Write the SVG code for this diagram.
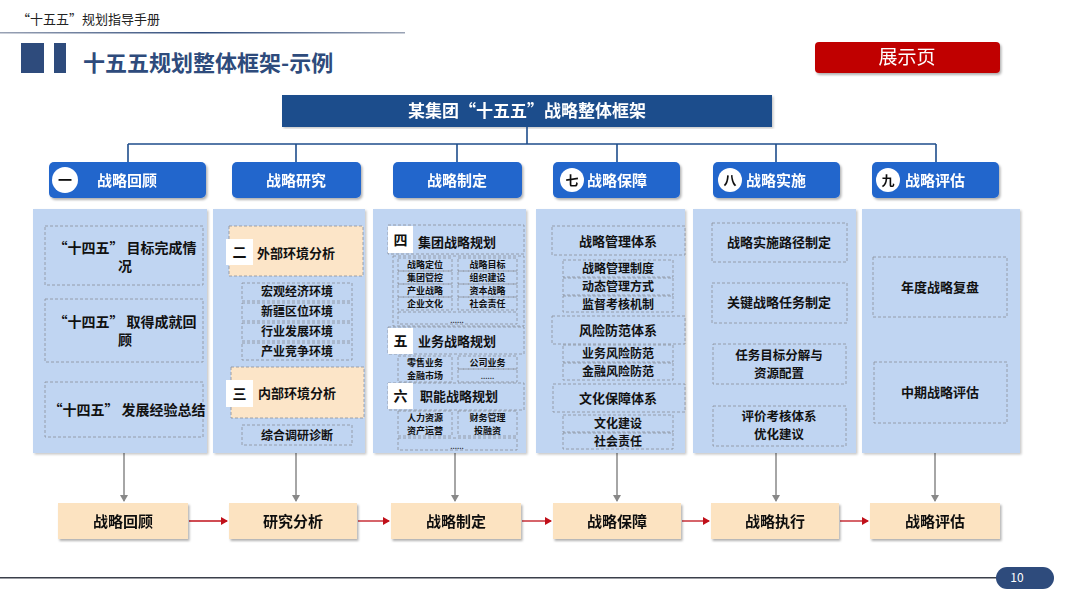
<svg xmlns="http://www.w3.org/2000/svg" width="1067" height="600" viewBox="0 0 1067 600">
<defs>
<style>
text{font-family:"Noto Sans CJK SC","Noto Sans",sans-serif;}
.b{font-weight:bold;}
.c{text-anchor:middle;}
.dash{fill:none;stroke:#8a8f99;stroke-width:0.8;stroke-dasharray:3 2;}
.panel{fill:#C0D5F2;}
.hdr{fill:#2266CC;}
.hdrt{font-size:15px;font-weight:bold;fill:#fff;text-anchor:middle;}
.btm{fill:#FCE3C1;}
.btmt{font-size:15px;font-weight:bold;fill:#111;text-anchor:middle;}
.t14{font-size:14px;font-weight:bold;fill:#111;}
.t13{font-size:13px;font-weight:bold;fill:#111;}
.t125{font-size:12.5px;font-weight:bold;fill:#111;}
.t12{font-size:12px;font-weight:bold;fill:#111;}
.t10{font-size:9px;font-weight:bold;fill:#111;}
.peach{fill:#FCE5C8;stroke:#8a8f99;stroke-width:0.8;stroke-dasharray:3 2;}
.num{fill:#fff;}
.bus{fill:none;stroke:#1F4E8C;stroke-width:1.6;}
.down{fill:none;stroke:#888;stroke-width:1.5;marker-end:url(#ag);}
.red{fill:none;stroke:#C0101A;stroke-width:1.3;marker-end:url(#ar);}
</style>
<filter id="sh" x="-10%" y="-20%" width="120%" height="150%">
<feDropShadow dx="1.5" dy="2" stdDeviation="1.2" flood-color="#000" flood-opacity="0.3"/>
</filter>
<filter id="sh2" x="-5%" y="-5%" width="110%" height="110%">
<feDropShadow dx="1.5" dy="1.5" stdDeviation="1" flood-color="#000" flood-opacity="0.22"/>
</filter>
<marker id="ag" markerWidth="8" markerHeight="8" refX="6" refY="4" orient="auto" markerUnits="userSpaceOnUse">
<path d="M0,0 L7,4 L0,8 Z" fill="#888"/>
</marker>
<marker id="ar" markerWidth="8" markerHeight="8" refX="6" refY="4" orient="auto" markerUnits="userSpaceOnUse">
<path d="M0,0 L7,4 L0,8 Z" fill="#C0101A"/>
</marker>
<linearGradient id="hl" x1="0" y1="0" x2="1" y2="0">
<stop offset="0" stop-color="#9aa3b5"/>
<stop offset="0.5" stop-color="#2E4B7C"/>
<stop offset="1" stop-color="#9aa3b5"/>
</linearGradient>
</defs>
<rect width="1067" height="600" fill="#fff"/>

<g id="header">
<text x="17" y="24" style="font-size:13px;fill:#222;">“十五五”规划指导手册</text>
<rect x="0" y="32" width="405" height="1.5" fill="url(#hl)"/>
<rect x="21" y="43" width="23" height="30" fill="#2E4B7C"/>
<rect x="54" y="43" width="12" height="30" fill="#2E4B7C"/>
<text x="83" y="71" class="b" style="font-size:22px;fill:#2E4B7C;">十五五规划整体框架-示例</text>
</g>

<g id="badge" filter="url(#sh)">
<rect x="815" y="42" width="185" height="31" rx="4" fill="#C00000"/>
<text x="907" y="64" class="c" style="font-size:19px;fill:#fff;">展示页</text>
</g>

<g id="banner" filter="url(#sh2)">
<rect x="282" y="95" width="490" height="32" fill="#1F4E8C"/>
<text x="527" y="117" class="c b" style="font-size:17px;fill:#fff;">某集团“十五五”战略整体框架</text>
</g>

<g id="connectors">
<path class="bus" d="M527 127 V144 M128 144 H936 M128 144 V162 M296 144 V162 M457 144 V162 M617 144 V162 M776 144 V162 M936 144 V162"/>
<path class="down" d="M124 453 V501"/>
<path class="down" d="M296 453 V501"/>
<path class="down" d="M455 453 V501"/>
<path class="down" d="M617 453 V501"/>
<path class="down" d="M776 453 V501"/>
<path class="down" d="M935 453 V501"/>
<path class="red" d="M189 521 H227"/>
<path class="red" d="M358 521 H389"/>
<path class="red" d="M522 521 H551"/>
<path class="red" d="M682 521 H709"/>
<path class="red" d="M840 521 H868"/>
</g>

<g id="h1" filter="url(#sh)">
<rect class="hdr" x="49" y="162" width="157" height="36" rx="5"/>
<circle cx="65" cy="180" r="13" fill="#fff"/>
<text x="65" y="185" class="c b" style="font-size:14px;fill:#111;">一</text>
<text x="127" y="186" class="hdrt">战略回顾</text>
</g>
<g id="h2" filter="url(#sh)">
<rect class="hdr" x="232" y="162" width="129" height="36" rx="5"/>
<text x="296" y="186" class="hdrt">战略研究</text>
</g>
<g id="h3" filter="url(#sh)">
<rect class="hdr" x="393" y="162" width="129" height="36" rx="5"/>
<text x="457" y="186" class="hdrt">战略制定</text>
</g>
<g id="h4" filter="url(#sh)">
<rect class="hdr" x="553" y="162" width="127" height="36" rx="5"/>
<circle cx="572" cy="180" r="12" fill="#fff"/>
<text x="572" y="185" class="c b" style="font-size:13px;fill:#111;">七</text>
<text x="617" y="186" class="hdrt">战略保障</text>
</g>
<g id="h5" filter="url(#sh)">
<rect class="hdr" x="713" y="162" width="127" height="36" rx="5"/>
<circle cx="730" cy="180" r="12" fill="#fff"/>
<text x="730" y="185" class="c b" style="font-size:13px;fill:#111;">八</text>
<text x="776" y="186" class="hdrt">战略实施</text>
</g>
<g id="h6" filter="url(#sh)">
<rect class="hdr" x="872" y="162" width="127" height="36" rx="5"/>
<circle cx="888" cy="180" r="12" fill="#fff"/>
<text x="888" y="185" class="c b" style="font-size:13px;fill:#111;">九</text>
<text x="935" y="186" class="hdrt">战略评估</text>
</g>

<g id="p1">
<rect class="panel" x="33" y="209" width="174" height="244" filter="url(#sh2)"/>
<rect class="dash" x="45" y="226" width="158" height="59"/>
<text x="125" y="253" class="t14 c">“十四五” 目标完成情</text>
<text x="125" y="271" class="t14 c">况</text>
<rect class="dash" x="45" y="299" width="158" height="63"/>
<text x="125" y="327" class="t14 c">“十四五” 取得成就回</text>
<text x="125" y="345" class="t14 c">顾</text>
<rect class="dash" x="45" y="382" width="158" height="55"/>
<text x="127" y="415" class="t14 c">“十四五” 发展经验总结</text>
</g>

<g id="p2">
<rect class="panel" x="213" y="209" width="152" height="244" filter="url(#sh2)"/>
<rect class="peach" x="229" y="226" width="134" height="50"/>
<rect class="num" x="226" y="239" width="27" height="26"/>
<text x="239.5" y="257" class="t14 c">二</text>
<text x="257" y="258" class="t13">外部环境分析</text>
<rect class="dash" x="242" y="283" width="110" height="18"/>
<text x="297" y="296" class="t12 c">宏观经济环境</text>
<rect class="dash" x="242" y="303" width="110" height="18"/>
<text x="297" y="316" class="t12 c">新疆区位环境</text>
<rect class="dash" x="242" y="323" width="110" height="18"/>
<text x="297" y="336" class="t12 c">行业发展环境</text>
<rect class="dash" x="242" y="343" width="110" height="17"/>
<text x="297" y="356" class="t12 c">产业竞争环境</text>
<rect class="peach" x="231" y="367" width="133" height="51"/>
<rect class="num" x="226" y="380" width="27" height="27"/>
<text x="239.5" y="399" class="t14 c">三</text>
<text x="258" y="398" class="t13">内部环境分析</text>
<rect class="dash" x="242" y="425" width="110" height="20"/>
<text x="297" y="440" class="t12 c">综合调研诊断</text>
</g>

<g id="p3">
<rect class="panel" x="373" y="209" width="153" height="244" filter="url(#sh2)"/>
<rect class="dash" x="388" y="225" width="136" height="29"/>
<rect class="num" x="388" y="226" width="25" height="27"/>
<text x="400.5" y="245" class="t14 c">四</text>
<text x="418" y="247" class="t13">集团战略规划</text>
<rect class="dash" x="393" y="256" width="131" height="70"/>
<rect class="dash" x="398" y="258" width="54" height="13"/>
<rect class="dash" x="398" y="271" width="54" height="13"/>
<rect class="dash" x="398" y="284" width="54" height="13"/>
<rect class="dash" x="398" y="297" width="54" height="13"/>
<rect class="dash" x="458" y="258" width="59" height="13"/>
<rect class="dash" x="458" y="271" width="59" height="13"/>
<rect class="dash" x="458" y="284" width="59" height="13"/>
<rect class="dash" x="458" y="297" width="59" height="13"/>
<text x="425" y="268" class="t10 c">战略定位</text>
<text x="425" y="281" class="t10 c">集团管控</text>
<text x="425" y="294" class="t10 c">产业战略</text>
<text x="425" y="307" class="t10 c">企业文化</text>
<text x="487.5" y="268" class="t10 c">战略目标</text>
<text x="487.5" y="281" class="t10 c">组织建设</text>
<text x="487.5" y="294" class="t10 c">资本战略</text>
<text x="487.5" y="307" class="t10 c">社会责任</text>
<rect class="dash" x="398" y="312" width="119" height="12"/>
<text x="457" y="323" class="c b" style="font-size:7px;fill:#111;">......</text>
<rect class="dash" x="388" y="327" width="136" height="27"/>
<rect class="num" x="388" y="328" width="25" height="26"/>
<text x="400.5" y="346" class="t14 c">五</text>
<text x="418" y="346" class="t13">业务战略规划</text>
<rect class="dash" x="398" y="356" width="54" height="26"/>
<rect class="dash" x="458" y="356" width="59" height="13"/>
<rect class="dash" x="458" y="369" width="59" height="13"/>
<text x="425" y="366" class="t10 c">零售业务</text>
<text x="425" y="379" class="t10 c">金融市场</text>
<text x="487.5" y="366" class="t10 c">公司业务</text>
<text x="487.5" y="379" class="c b" style="font-size:7px;fill:#111;">......</text>
<rect class="dash" x="388" y="383" width="136" height="27"/>
<rect class="num" x="388" y="383" width="25" height="26"/>
<text x="400.5" y="401" class="t14 c">六</text>
<text x="420" y="401" class="t13">职能战略规划</text>
<rect class="dash" x="398" y="411" width="54" height="25"/>
<rect class="dash" x="458" y="411" width="59" height="25"/>
<text x="425" y="421" class="t10 c">人力资源</text>
<text x="425" y="434" class="t10 c">资产运营</text>
<text x="487.5" y="421" class="t10 c">财务管理</text>
<text x="487.5" y="434" class="t10 c">投融资</text>
<rect class="dash" x="398" y="438" width="119" height="12"/>
<text x="457" y="449" class="c b" style="font-size:7px;fill:#111;">......</text>
</g>

<g id="p4">
<rect class="panel" x="536" y="209" width="149" height="244" filter="url(#sh2)"/>
<rect class="dash" x="552" y="226" width="133" height="29"/>
<text x="618" y="246" class="t13 c">战略管理体系</text>
<rect class="dash" x="563" y="260" width="110" height="17"/>
<text x="618" y="273" class="t12 c">战略管理制度</text>
<rect class="dash" x="563" y="278" width="110" height="17"/>
<text x="618" y="291" class="t12 c">动态管理方式</text>
<rect class="dash" x="563" y="296" width="110" height="16"/>
<text x="618" y="309" class="t12 c">监督考核机制</text>
<rect class="dash" x="552" y="316" width="133" height="28"/>
<text x="618" y="335" class="t13 c">风险防范体系</text>
<rect class="dash" x="563" y="345" width="110" height="17"/>
<text x="618" y="358" class="t12 c">业务风险防范</text>
<rect class="dash" x="563" y="363" width="110" height="17"/>
<text x="618" y="376" class="t12 c">金融风险防范</text>
<rect class="dash" x="553" y="384" width="132" height="28"/>
<text x="618" y="403" class="t13 c">文化保障体系</text>
<rect class="dash" x="563" y="415" width="110" height="17"/>
<text x="618" y="428" class="t12 c">文化建设</text>
<rect class="dash" x="563" y="433" width="110" height="16"/>
<text x="618" y="446" class="t12 c">社会责任</text>
</g>

<g id="p5">
<rect class="panel" x="693" y="209" width="163" height="244" filter="url(#sh2)"/>
<rect class="dash" x="712" y="223" width="135" height="39"/>
<text x="779" y="247" class="t13 c">战略实施路径制定</text>
<rect class="dash" x="712" y="283" width="135" height="40"/>
<text x="779" y="307" class="t13 c">关键战略任务制定</text>
<rect class="dash" x="713" y="344" width="133" height="40"/>
<text x="779" y="360" class="t125 c">任务目标分解与</text>
<text x="779" y="378" class="t125 c">资源配置</text>
<rect class="dash" x="713" y="406" width="133" height="40"/>
<text x="779" y="421" class="t125 c">评价考核体系</text>
<text x="779" y="439" class="t125 c">优化建议</text>
</g>

<g id="p6">
<rect class="panel" x="862" y="209" width="158" height="244" filter="url(#sh2)"/>
<rect class="dash" x="873" y="257" width="134" height="60"/>
<text x="940" y="292" class="t13 c">年度战略复盘</text>
<rect class="dash" x="874" y="362" width="133" height="61"/>
<text x="940" y="397" class="t13 c">中期战略评估</text>
</g>

<g id="b1" filter="url(#sh)"><rect class="btm" x="58" y="503" width="130" height="36"/><text x="123" y="527" class="btmt">战略回顾</text></g>
<g id="b2" filter="url(#sh)"><rect class="btm" x="229" y="503" width="128" height="36"/><text x="293" y="527" class="btmt">研究分析</text></g>
<g id="b3" filter="url(#sh)"><rect class="btm" x="391" y="503" width="130" height="36"/><text x="456" y="527" class="btmt">战略制定</text></g>
<g id="b4" filter="url(#sh)"><rect class="btm" x="553" y="503" width="128" height="36"/><text x="617" y="527" class="btmt">战略保障</text></g>
<g id="b5" filter="url(#sh)"><rect class="btm" x="711" y="503" width="128" height="36"/><text x="775" y="527" class="btmt">战略执行</text></g>
<g id="b6" filter="url(#sh)"><rect class="btm" x="870" y="503" width="130" height="36"/><text x="935" y="527" class="btmt">战略评估</text></g>

<g id="footer">
<rect x="0" y="577" width="1000" height="1.5" fill="#3a3f4a"/>
<rect x="996" y="567" width="58" height="22" rx="11" fill="#2E4B7C"/>
<text x="1017" y="582" class="c" style="font-size:12px;fill:#fff;">10</text>
</g>
</svg>
